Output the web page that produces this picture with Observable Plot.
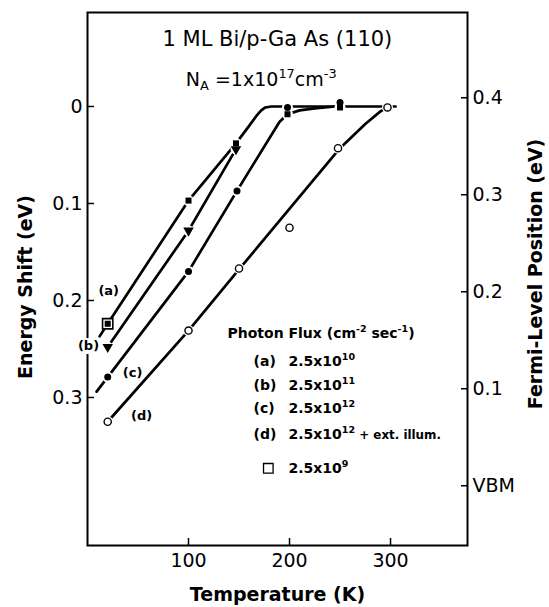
<!DOCTYPE html>
<html><head><meta charset="utf-8">
<script src="https://cdn.jsdelivr.net/npm/d3@7"></script>
<script src="https://cdn.jsdelivr.net/npm/@observablehq/plot@0.6"></script>
<style>body{margin:0;background:#fff;} svg{display:block;}</style>
</head><body><div id="chart"></div>
<script>
// ---- measured points (Temperature K, Energy shift eV) ----
const tempA = [20, 100, 147, 198, 250];
const shiftA = [0.224, 0.097, 0.038, 0.008, 0.001];
const tempB = [20, 100, 147];
const shiftB = [0.248, 0.128, 0.044];
const tempC = [20, 100, 148, 198, 250];
const shiftC = [0.279, 0.170, 0.087, 0.001, -0.004];
const tempD = [20, 100, 150, 200, 248, 297];
const shiftD = [0.325, 0.231, 0.167, 0.125, 0.043, 0.001];
const tempLow = [20];
const shiftLow = [0.224];

// ---- hand-traced guide curves ----
const curveAT = [12, 20, 100, 147, 160, 167, 172, 176, 182, 305];
const curveAS = [0.237, 0.224, 0.097, 0.038, 0.020, 0.010, 0.004, 0.001, 0, 0];
const curveBT = [20, 100, 147];
const curveBS = [0.248, 0.128, 0.044];
const curveCT = [9, 20, 100, 148, 190, 198, 210, 225, 245];
const curveCS = [0.294, 0.279, 0.170, 0.087, 0.016, 0.008, 0.004, 0.002, 0];
const curveDT = [20, 100, 150, 250, 275, 290, 297];
const curveDS = [0.325, 0.231, 0.168, 0.043, 0.018, 0.005, 0.001];

// ---- axes ----
const xTicks = [100, 200, 300];
const yTicks = [0, 0.1, 0.2, 0.3];
const fermiTicks = [0.4, 0.3, 0.2, 0.1, 0];
const vbmShift = 0.391; // energy-shift value at which the Fermi level equals the VBM

// ---- texts ----
const titleLine1 = "1 ML Bi/p-Ga As (110)";
const titleLine2 = "N_{A} =1x10^{17}cm^{-3}";
const legendTitle = "Photon Flux (cm^{-2} sec^{-1})";
const legendKeys = ["(a)", "(b)", "(c)", "(d)"];
const legendFlux = ["2.5x10^{10}", "2.5x10^{11}", "2.5x10^{12}", "2.5x10^{12}~{ + ext. illum.}"];
const lowFluxLabel = "2.5x10^{9}";
const xLabel = "Temperature (K)";
const yLabel = "Energy Shift (eV)";
const y2Label = "Fermi-Level Position (eV)";

const pts = (T, S) => T.map((t, i) => ({t, s: S[i]}));
const A = pts(tempA, shiftA), B = pts(tempB, shiftB), C = pts(tempC, shiftC), D = pts(tempD, shiftD), L = pts(tempLow, shiftLow);
const cA = pts(curveAT, curveAS), cB = pts(curveBT, curveBS), cC = pts(curveCT, curveCS), cD = pts(curveDT, curveDS);
const all = [...A, ...B, ...C, ...D];

const legendRowsS = [0.263, 0.288, 0.311, 0.338];
const legendRows = legendKeys.map((k, i) => ({k, f: legendFlux[i], s: legendRowsS[i]}));

const lineOpts = {x: "t", y: "s", stroke: "black", strokeWidth: 2.7, curve: "linear", strokeLinejoin: "round", strokeLinecap: "round"};
const fam = "'DejaVu Sans', sans-serif";

const plot = Plot.plot({
  width: 549, height: 607,
  marginLeft: 87, marginRight: 82, marginTop: 12, marginBottom: 62,
  style: {fontFamily: fam, fontSize: "19px", color: "black", background: "white"},
  x: {domain: [0, 376.2]},
  y: {domain: [0.4526, -0.0969]},
  marks: [
    Plot.frame({stroke: "black", strokeWidth: 2}),
    // inward ticks
    Plot.axisY({anchor: "left", ticks: yTicks, tickSize: 7, dx: 7, tickFormat: () => "", label: null, strokeWidth: 1.5}),
    Plot.axisY({anchor: "left", ticks: yTicks, tickSize: 0, tickPadding: 5, tickFormat: d => d === 0 ? "0" : d.toFixed(1), label: null, fontSize: 19}),
    Plot.axisY({anchor: "right", ticks: fermiTicks.map(f => vbmShift - f), tickSize: 7, dx: -7, tickFormat: () => "", label: null, strokeWidth: 1.5}),
    Plot.axisY({anchor: "right", ticks: fermiTicks.map(f => vbmShift - f), tickSize: 0, tickPadding: 5,
      tickFormat: d => { const f = Math.round((vbmShift - d) * 10) / 10; return f === 0 ? "VBM" : f.toFixed(1); }, label: null, fontSize: 19}),
    Plot.axisX({anchor: "bottom", ticks: xTicks, tickSize: 7, dy: -7, tickFormat: () => "", label: null, strokeWidth: 1.5}),
    Plot.axisX({anchor: "bottom", ticks: xTicks, tickSize: 0, tickPadding: 8, tickFormat: d => String(d), label: null, fontSize: 19}),
    // curves
    Plot.line(cA, lineOpts),
    Plot.line(cB, lineOpts),
    Plot.line(cC, lineOpts),
    Plot.line(cD, lineOpts),
    // white gaps around markers
    Plot.dot(all, {x: "t", y: "s", r: 5.5, fill: "white"}),
    // markers
    Plot.dot(L, {x: "t", y: "s", symbol: "square", r: 5.8, fill: "white", stroke: "black", strokeWidth: 1.6}),
    Plot.dot(A, {x: "t", y: "s", symbol: "square", r: 3.4, fill: "black"}),
    Plot.dot(B, {x: "t", y: "s", symbol: "triangle", rotate: 180, r: 3.9, fill: "black"}),
    Plot.dot(C, {x: "t", y: "s", symbol: "circle", r: 3.5, fill: "black"}),
    Plot.dot(D, {x: "t", y: "s", symbol: "circle", r: 3.6, fill: "white", stroke: "black", strokeWidth: 1.4}),
    // curve labels (the "(b)" label interrupts the left axis line)
    Plot.dot([0], {x: 1, y: 0.247, symbol: "square", r: 9, fill: "white"}),
    Plot.text(["(a)"], {x: 21, y: 0.190, fontSize: 13, fontWeight: "bold"}),
    Plot.text(["(b)"], {x: 1, y: 0.247, fontSize: 13, fontWeight: "bold"}),
    Plot.text(["(c)"], {x: 44.6, y: 0.275, fontSize: 13, fontWeight: "bold"}),
    Plot.text(["(d)"], {x: 53.5, y: 0.319, fontSize: 13, fontWeight: "bold"}),
    // titles
    Plot.text([titleLine1], {x: 188, y: -0.069, fontSize: 21}),
    Plot.text([titleLine2], {x: 172, y: -0.027, fontSize: 19}),
    // legend
    Plot.text([legendTitle], {x: 138.6, y: 0.234, textAnchor: "start", fontSize: 14, fontWeight: "bold"}),
    Plot.text(legendRows, {x: 164.4, y: "s", text: "k", textAnchor: "start", fontSize: 14, fontWeight: "bold"}),
    Plot.text(legendRows, {x: 199, y: "s", text: "f", textAnchor: "start", fontSize: 14, fontWeight: "bold"}),
    Plot.dot([0], {x: 179, y: 0.373, symbol: "square", r: 5.4, fill: "none", stroke: "black", strokeWidth: 1.3}),
    Plot.text([lowFluxLabel], {x: 199, y: 0.373, textAnchor: "start", fontSize: 14, fontWeight: "bold"}),
    // axis titles
    Plot.text([xLabel], {frameAnchor: "bottom", textAnchor: "middle", lineAnchor: "middle", dy: 49, fontSize: 19, fontWeight: "bold"}),
    Plot.text([yLabel], {frameAnchor: "left", textAnchor: "middle", lineAnchor: "middle", dx: -62, dy: 8, rotate: -90, fontSize: 19, fontWeight: "bold"}),
    Plot.text([y2Label], {frameAnchor: "right", textAnchor: "middle", lineAnchor: "middle", dx: 68, dy: -5, rotate: -90, fontSize: 19, fontWeight: "bold"})
  ]
});
document.getElementById("chart").appendChild(plot);

// superscript ^{..}, subscript _{..} and smaller ~{..} rendering
plot.querySelectorAll("text").forEach(t => {
  const s = t.textContent;
  if (!/[\^_~]\{/.test(s)) return;
  const fs = parseFloat(getComputedStyle(t).fontSize) || 15;
  while (t.firstChild) t.removeChild(t.firstChild);
  const re = /([\^_~])\{([^}]*)\}/g;
  let last = 0, m;
  const add = (txt, kind) => {
    const ts = document.createElementNS("http://www.w3.org/2000/svg", "tspan");
    ts.textContent = txt;
    if (kind === "^" || kind === "_") {
      ts.setAttribute("font-size", (fs * 0.68).toFixed(1));
      ts.setAttribute("baseline-shift", kind === "^" ? (fs * 0.42).toFixed(1) : (-fs * 0.22).toFixed(1));
    } else if (kind === "~") {
      ts.setAttribute("font-size", (fs * 0.85).toFixed(1));
    }
    t.appendChild(ts);
  };
  while ((m = re.exec(s))) {
    if (m.index > last) add(s.slice(last, m.index));
    add(m[2], m[1]);
    last = re.lastIndex;
  }
  if (last < s.length) add(s.slice(last));
});
</script>
</body></html>
